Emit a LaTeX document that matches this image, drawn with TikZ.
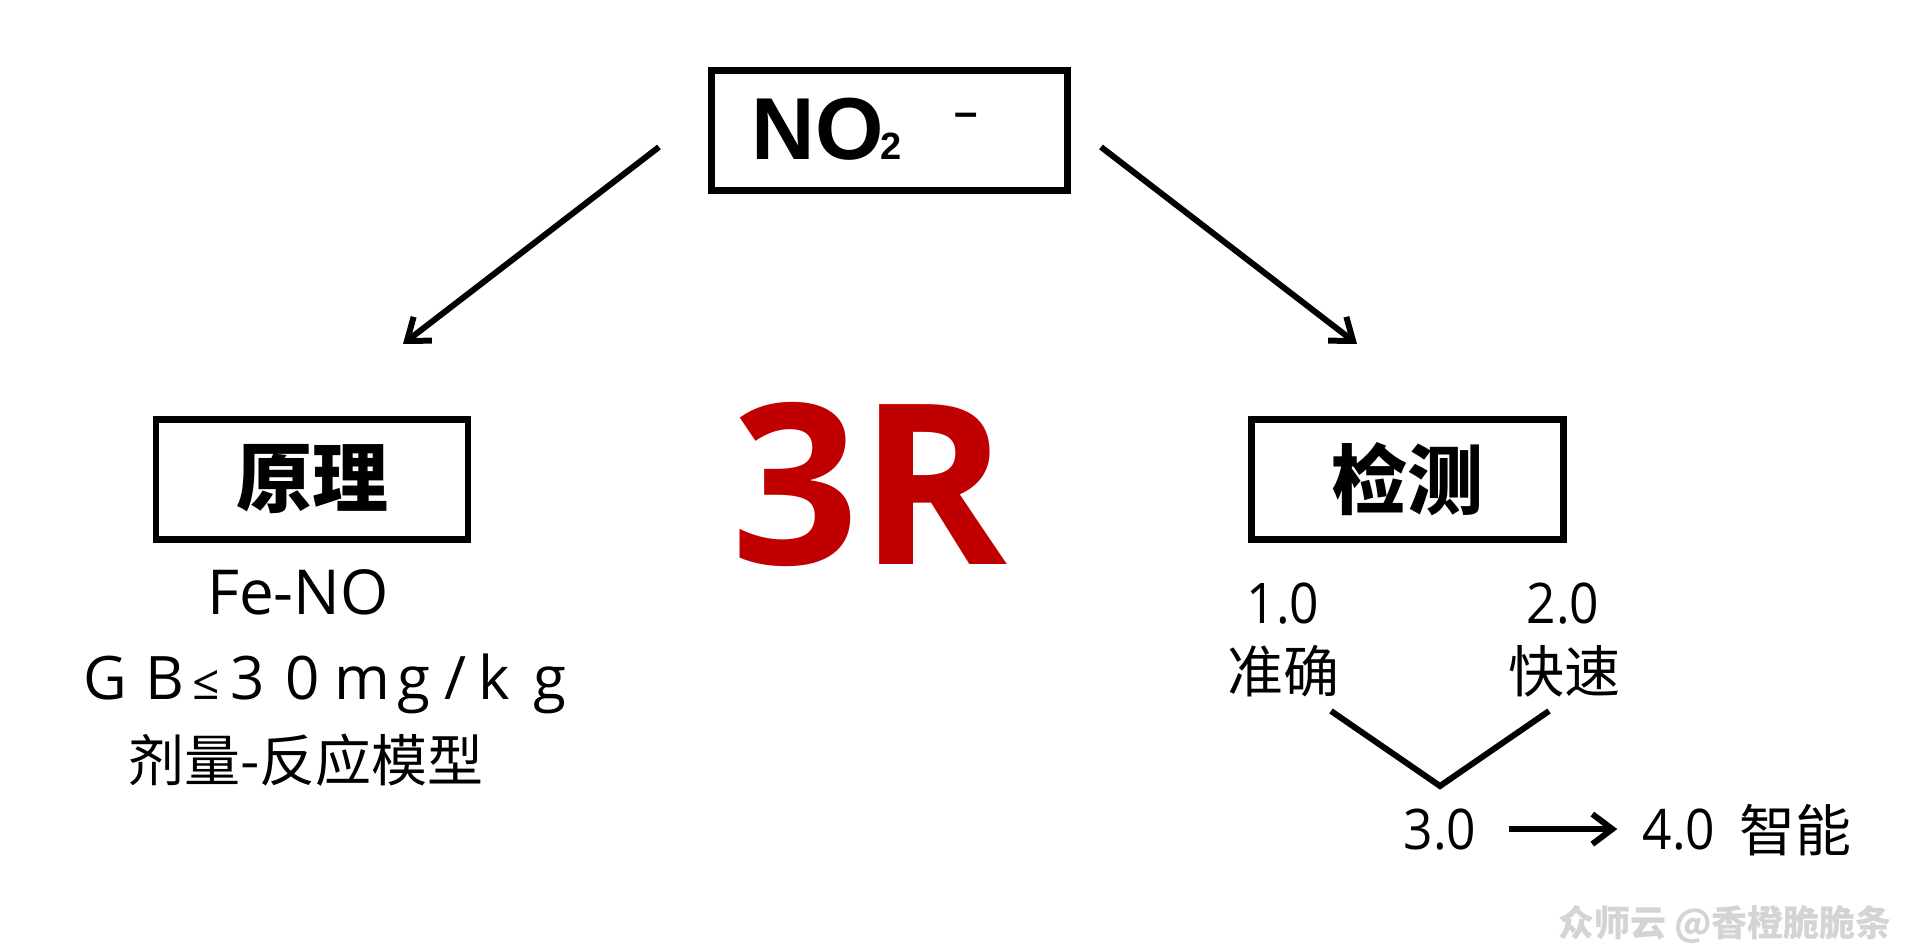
\documentclass[tikz,border=0pt]{standalone}
\usepackage{fontspec}
\setmainfont{Open Sans}
\newfontfamily\cjk{Noto Sans CJK SC}
\newfontfamily\arialfont{Liberation Sans}
\newfontfamily\digitfont[FakeStretch=0.92]{Open Sans}
\usepackage{xcolor}
\usetikzlibrary{arrows.meta}
\definecolor{bigred}{HTML}{C00000}
\definecolor{markgray}{HTML}{D4D4D4}
\tikzstyle{titlebox} = [rectangle, draw=black, line width=3.4pt, fill=white, inner sep=0pt, minimum width=156pt, minimum height=60pt]
\tikzstyle{bodytext} = [inner sep=0pt, font=\fontsize{30}{34}\selectfont]
\tikzstyle{smalltext} = [inner sep=0pt, font=\digitfont\fontsize{28}{32}\selectfont]
\tikzstyle{arrow} = [line width=3pt,-{Straight Barb[length=10pt,width=15pt,line width=3pt]}]

\begin{document}
\begin{tikzpicture}[x=0.5pt,y=-0.5pt]
  \useasboundingbox (0,0) rectangle (1920,946);

  % Top box
  \node[titlebox, minimum width=178pt, text width=178pt, align=left, font=\arialfont\bfseries] (no2) at (889.5,130.5) {
    \hspace{20pt}\raisebox{1.5pt}{\fontsize{44}{48}\selectfont NO\kern-1.5pt{\fontsize{19}{22}\selectfont 2}\hspace{26.5pt}\raisebox{16.5pt}{\fontsize{21}{24}\selectfont –}}
  };
  \coordinate (no2L) at (659,147);
  \coordinate (no2R) at (1101,147);

  % Left branch
  \node[titlebox] (theory) at (312,479.5) {\cjk\bfseries\fontsize{38}{40}\selectfont 原理};
  \coordinate (theoryTop) at (403,344);
  \node[bodytext, anchor=base, font=\fontsize{31}{34}\selectfont] (feno) at (298,614) {Fe-NO};
  \node[bodytext, anchor=base] (limit) at (325,699) {G\kern9pt B\kern4pt {\fontsize{24}{24}\selectfont ≤}\kern5.5pt 3\kern10.2pt 0\kern7.2pt m\kern3.6pt g\kern7.4pt /\kern6pt k\kern11.4pt g};
  \node[inner sep=0pt, font=\cjk\fontsize{28}{32}\selectfont] (model) at (306,760) {剂量-反应模型};

  % Center text
  \node[inner sep=0pt, text=bigred, font=\bfseries\fontsize{112}{120}\selectfont] (threeR) at (869,484) {3R};

  % Right branch
  \node[titlebox] (detect) at (1407.5,479.5) {\cjk\bfseries\fontsize{38}{40}\selectfont 检测};
  \coordinate (detectTop) at (1357,344);
  \node[smalltext, anchor=base] (one) at (1283,623) {1.0};
  \node[smalltext, anchor=base] (two) at (1563,623) {2.0};
  \node[inner sep=0pt, font=\cjk\fontsize{28}{32}\selectfont] (accurate) at (1283,671) {准确};
  \node[inner sep=0pt, font=\cjk\fontsize{28}{32}\selectfont] (fast) at (1564,671) {快速};
  \coordinate (veeL) at (1331,711);
  \coordinate (veeM) at (1440,786);
  \coordinate (veeR) at (1549,711);
  \node[smalltext, anchor=base] (three) at (1440,849) {3.0};
  \node[smalltext, anchor=base] (four) at (1679,849) {4.0};
  \node[inner sep=0pt, font=\cjk\fontsize{28}{32}\selectfont] (smart) at (1795,830) {智能};

  % Watermark
  \node[inner sep=0pt, text=markgray, font=\cjk\bfseries\fontsize{18}{20}\selectfont] (mark) at (1725,924) {众师云 @香橙脆脆条};

  % Arrows
  \draw[arrow] (no2L) -- (theoryTop);
  \draw[arrow] (no2R) -- (detectTop);
  \draw[line width=3pt] (veeL) -- (veeM) -- (veeR);
  \draw[arrow, shorten <=16pt, shorten >=12.5pt] (three.east) -- (four.west);
\end{tikzpicture}
\end{document}
